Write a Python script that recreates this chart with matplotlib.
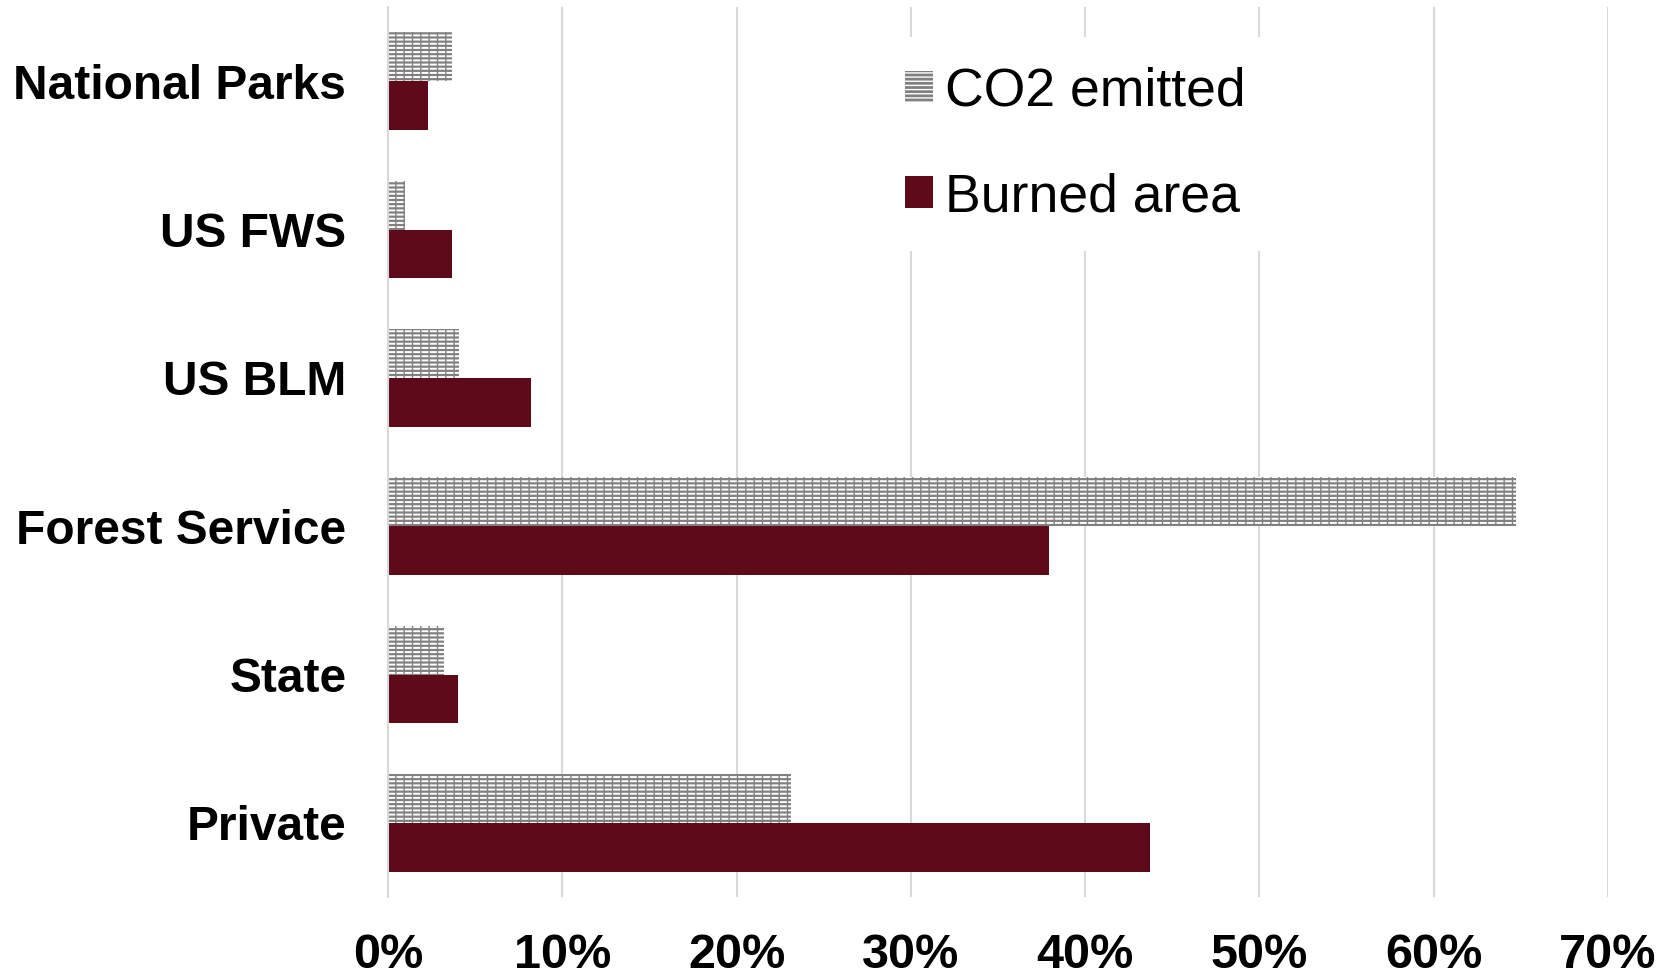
import matplotlib
matplotlib.use("Agg")
import matplotlib.pyplot as plt
from matplotlib.ticker import PercentFormatter, MultipleLocator
import numpy as np

categories = ["National Parks", "US FWS", "US BLM", "Forest Service", "State", "Private"]
co2_emitted = [3.7, 1.0, 4.1, 64.7, 3.2, 23.1]
burned_area = [2.3, 3.7, 8.2, 37.9, 4.0, 43.7]
series_labels = ["CO2 emitted", "Burned area"]

plt.rcParams['font.family'] = ['Liberation Sans', 'DejaVu Sans']

fig = plt.figure(figsize=(16.67, 9.75), dpi=100)
ax = fig.add_axes([388/1667, 1 - 897/975, (1608-388)/1667, (897-7)/975])

y = np.arange(len(categories))
h = 0.33
gray = '#808080'
maroon = '#5e0a1b'

plt.rcParams['hatch.linewidth'] = 1.4
b1 = ax.barh(y - h/2, [v/100 for v in co2_emitted], height=h, color=gray,
             edgecolor='white', hatch='----', linewidth=0, label=series_labels[0])
plt.rcParams['hatch.linewidth'] = 1.0
b1b = ax.barh(y - h/2, [v/100 for v in co2_emitted], height=h, facecolor='none',
              edgecolor=gray, hatch='||', linewidth=0)
b2 = ax.barh(y + h/2, [v/100 for v in burned_area], height=h, color=maroon,
             linewidth=0, label=series_labels[1])

ax.set_yticks(y)
ax.set_yticklabels(categories, fontsize=34.5, fontweight='bold')
ax.set_ylim(len(categories) - 0.5, -0.5)
ax.set_xlim(0, 0.70)
ax.xaxis.set_major_locator(MultipleLocator(0.10))
ax.xaxis.set_major_formatter(PercentFormatter(1.0, decimals=0))
ax.tick_params(axis='x', length=0, pad=26, labelsize=35)
ax.tick_params(axis='y', length=0, pad=30)
for lab in ax.get_xticklabels():
    lab.set_fontweight('bold')

ax.set_axisbelow(True)
ax.grid(axis='x', color='#d9d9d9', linewidth=1.5)
ax.grid(axis='y', visible=False)
for s in ['top', 'right', 'bottom']:
    ax.spines[s].set_visible(False)
ax.spines['left'].set_color('#d9d9d9')
ax.spines['left'].set_linewidth(1.5)

leg = ax.legend(handles=[b1, b2], labels=series_labels, loc='upper left',
                bbox_to_anchor=(876/1667, 1 - 37/975), bbox_transform=fig.transFigure,
                fontsize=38.5, frameon=True, facecolor='white', edgecolor='none',
                framealpha=1, fancybox=False, borderaxespad=0,
                handlelength=0.52, handleheight=0.52, handletextpad=0.22,
                labelspacing=1.04, borderpad=0.55)

fig.savefig("out.png", dpi=100)
